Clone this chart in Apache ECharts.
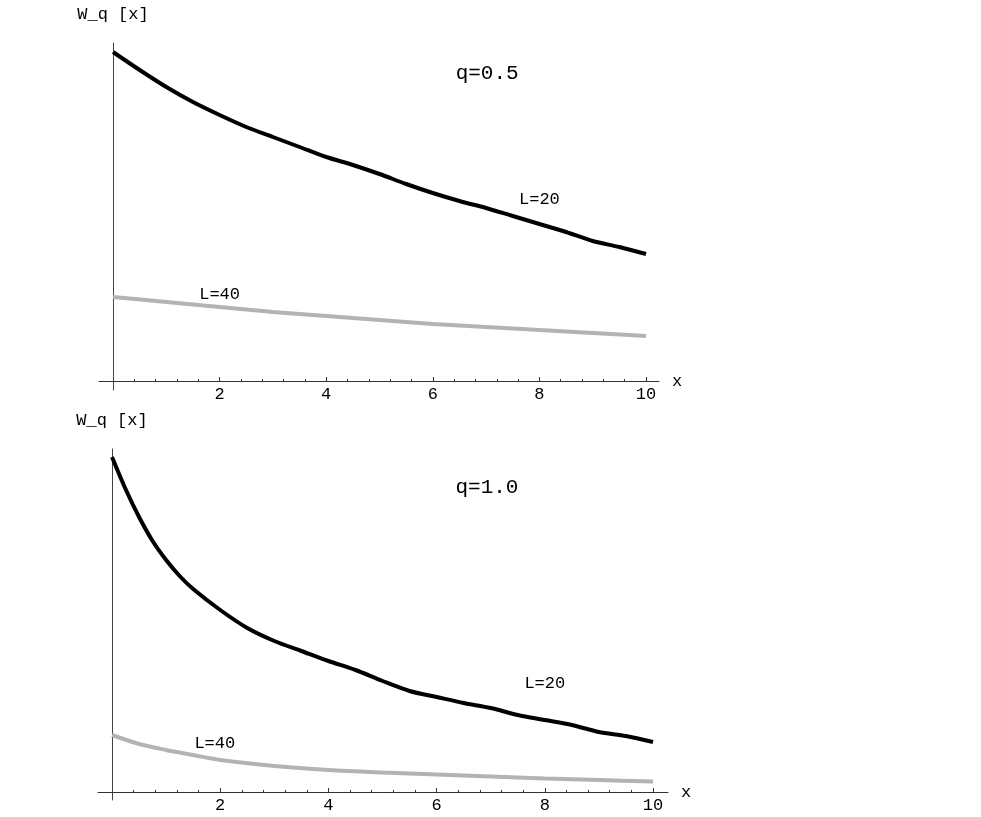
<!DOCTYPE html>
<html>
<head>
<meta charset="utf-8">
<script src="https://cdn.jsdelivr.net/npm/echarts/dist/echarts.min.js"></script>
<style>html,body{margin:0;padding:0;background:#fff;}#c{width:981px;height:817px;}</style>
</head>
<body>
<div id="c"></div>
<script>
// ---- data (y in arbitrary units, no y ticks in the original) ----
const xTopL20 = [0,0.5,1,1.5,2,2.5,3,3.5,4,4.5,5,5.5,6,6.5,7,7.5,8,8.5,9,9.5,10];
const yTopL20 = [3.29,3.11,2.94,2.79,2.66,2.54,2.44,2.34,2.24,2.16,2.07,1.97,1.88,1.80,1.73,1.65,1.57,1.49,1.40,1.34,1.27];
const xTopL40 = [0,1,2,3,4,5,6,7,8,9,10];
const yTopL40 = [0.84,0.79,0.74,0.69,0.65,0.61,0.57,0.54,0.51,0.48,0.45];

const xBotL20 = [0,0.25,0.5,0.75,1,1.25,1.5,2,2.5,3,3.5,4,4.5,5,5.5,6,6.5,7,7.5,8,8.5,9,9.5,10];
const yBotL20 = [3.35,3.03,2.75,2.51,2.32,2.16,2.03,1.82,1.64,1.51,1.41,1.31,1.22,1.11,1.01,0.95,0.89,0.84,0.77,0.72,0.67,0.60,0.56,0.50];
const xBotL40 = [0,0.5,1,1.5,2,3,4,5,6,7,8,9,10];
const yBotL40 = [0.57,0.48,0.42,0.37,0.32,0.26,0.22,0.195,0.175,0.155,0.135,0.12,0.105];

const majorTicks = [2,4,6,8,10];
const minorTicks = [0.4,0.8,1.2,1.6,2.4,2.8,3.2,3.6,4.4,4.8,5.2,5.6,6.4,6.8,7.2,7.6,8.4,8.8,9.2,9.6];
const yAxisName = 'W_q [x]';
const xAxisName = 'x';
const panelLabels = ['q=0.5','q=1.0'];
const curveLabels = ['L=20','L=40'];

// ---- styling ----
const FONT = 'Liberation Mono';
const AX = '#333';
function pairs(xs, ys){ return xs.map((x,i)=>[x, ys[i]]); }

function mainX(gi, min, max, off){
  return {
    type:'value', gridIndex:gi, min:min, max:max, position:'bottom', offset:off,
    axisLine:{show:true, onZero:false, lineStyle:{color:AX, width:1}},
    axisTick:{show:true, inside:true, length:4, customValues:majorTicks, lineStyle:{color:AX}},
    axisLabel:{show:true, customValues:majorTicks, margin:5, color:'#000', fontFamily:FONT, fontSize:17},
    splitLine:{show:false},
    name:xAxisName, nameLocation:'end', nameGap:13,
    nameTextStyle:{fontFamily:FONT, fontSize:17, color:'#000', verticalAlign:'middle'}
  };
}
function minorX(gi, min, max, off){
  return {
    type:'value', gridIndex:gi, min:min, max:max, position:'bottom', offset:off,
    axisLine:{show:false, onZero:false},
    axisTick:{show:true, inside:true, length:2, customValues:minorTicks, lineStyle:{color:AX}},
    axisLabel:{show:false}, splitLine:{show:false}
  };
}
function mainY(gi, min, max){
  return {
    type:'value', gridIndex:gi, min:min, max:max,
    axisLine:{show:true, onZero:true, lineStyle:{color:'#444', width:1}},
    axisTick:{show:false}, axisLabel:{show:false}, splitLine:{show:false},
    name:yAxisName, nameLocation:'end', nameGap:20,
    nameTextStyle:{fontFamily:FONT, fontSize:17, color:'#000', align:'center'}
  };
}
function lbl(text, coord, size){
  return {coord:coord, value:text, symbol:'circle', symbolSize:0,
    label:{show:true, position:'inside', formatter:text, color:'#000', fontFamily:FONT, fontSize:size}};
}

const chart = echarts.init(document.getElementById('c'), null, {renderer:'canvas'});
chart.setOption({
  animation:false,
  backgroundColor:'#fff',
  grid:[
    {left:99, width:560, top:43, height:347, outerBoundsMode:'none', containLabel:false},
    {left:98, width:570, top:449, height:351, outerBoundsMode:'none', containLabel:false}
  ],
  xAxis:[
    mainX(0,-0.263,10.244,-9), mainX(1,-0.259,10.277,-8),
    minorX(0,-0.263,10.244,-9), minorX(1,-0.259,10.277,-8)
  ],
  yAxis:[ mainY(0,-0.09,3.38), mainY(1,-0.08,3.43) ],
  series:[
    {type:'line', xAxisIndex:0, yAxisIndex:0, data:pairs(xTopL40,yTopL40), showSymbol:false, smooth:0.3,
      lineStyle:{color:'#b3b3b3', width:4},
      markPoint:{silent:true, data:[lbl(curveLabels[1],[2.0,0.87],17)]}},
    {type:'line', xAxisIndex:0, yAxisIndex:0, data:pairs(xTopL20,yTopL20), showSymbol:false, smooth:0.3,
      lineStyle:{color:'#000', width:4},
      markPoint:{silent:true, data:[lbl(curveLabels[0],[8.0,1.82],17), lbl(panelLabels[0],[7.02,3.08],21)]}},
    {type:'line', xAxisIndex:1, yAxisIndex:1, data:pairs(xBotL40,yBotL40), showSymbol:false, smooth:0.3,
      lineStyle:{color:'#b3b3b3', width:4},
      markPoint:{silent:true, data:[lbl(curveLabels[1],[1.9,0.49],17)]}},
    {type:'line', xAxisIndex:1, yAxisIndex:1, data:pairs(xBotL20,yBotL20), showSymbol:false, smooth:0.3,
      lineStyle:{color:'#000', width:4},
      markPoint:{silent:true, data:[lbl(curveLabels[0],[8.0,1.09],17), lbl(panelLabels[1],[6.93,3.05],21)]}}
  ]
});
</script>
</body>
</html>
